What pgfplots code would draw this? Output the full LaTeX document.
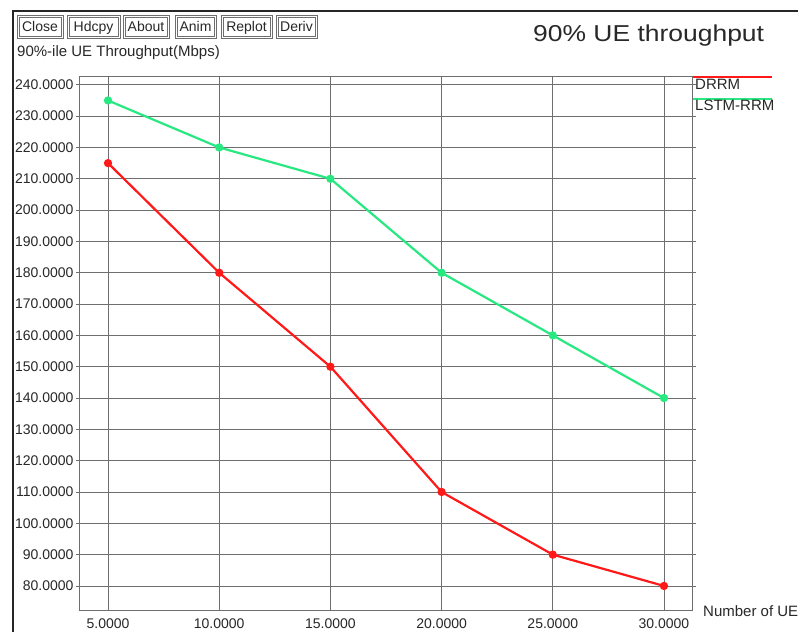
\documentclass[border=0pt]{standalone}
\usepackage{pgfplots}
\pgfplotsset{compat=1.18}
\usepackage{fontspec}
\setmainfont{Liberation Sans}
\definecolor{lred}{RGB}{255,25,25}
\definecolor{lgreen}{RGB}{40,232,130}
\definecolor{gridc}{RGB}{110,110,110}
\definecolor{txt}{RGB}{40,40,40}
\begin{document}
\begin{tikzpicture}[x=1pt,y=1pt]
\path[use as bounding box, fill=white] (0,0) rectangle (798,632);
% window border
\draw[line width=2pt, black!85] (12,621) -- (798,621);
\draw[line width=2pt, black!85] (13,621) -- (13,0);
% buttons
\foreach \a/\b/\t in {17/63/Close,67/120/Hdcpy,123/169/About,175/216/Anim,221/272/Replot,276/317/Deriv}{
  \draw[gridc, line width=0.8pt] (\a,617) rectangle (\b,594);
  \draw[gridc, line width=0.6pt] (\a+2,615) rectangle (\b-2,596);
  \node[font=\fontsize{14}{16}\selectfont, text=txt, anchor=base] at ({(\a+\b)/2},600) {\t};
}
% y label
\node[font=\fontsize{15}{18}\selectfont, text=txt, anchor=base west, inner sep=0pt] at (17,575) {90\%-ile UE Throughput(Mbps)};
% title
\node[font=\fontsize{23}{26}\selectfont, text=txt, anchor=base west, inner sep=0pt, xscale=1.15] at (533,590) {90\% UE throughput};
% x label
\node[font=\fontsize{15}{18}\selectfont, text=txt, anchor=base west, inner sep=0pt] at (703,16) {Number of UE};
\begin{axis}[
  at={(80pt,21pt)}, anchor=south west, scale only axis,
  width=612pt, height=534pt,
  xmin=3.74, xmax=31.26, ymin=72, ymax=242.5,
  xtick={5,10,...,30}, ytick={80,90,...,240},
  grid=major, major grid style={gridc, line width=0.8pt},
  axis line style={gridc, line width=1pt},
  tick align=outside, major tick length=4pt,
  xtick style={draw=none}, ytick style={gridc, line width=0.8pt},
  /pgf/number format/fixed, /pgf/number format/fixed zerofill,
  /pgf/number format/precision=4, /pgf/number format/assume math mode=true,
  /pgf/number format/1000 sep={},
  ticklabel style={font=\fontsize{14}{16}\selectfont, text=txt},
  xticklabel style={anchor=base, yshift=-13pt, inner sep=0.5pt},
  yticklabel style={anchor=east, xshift=1pt},
]
\addplot[lred, line width=2.2pt, mark=*, mark size=3pt] coordinates {(5,215) (10,180) (15,150) (20,110) (25,90) (30,80)};
\addplot[lgreen, line width=2.2pt, mark=*, mark size=3pt] coordinates {(5,235) (10,220) (15,210) (20,180) (25,160) (30,140)};
\end{axis}
% legend
\draw[lred, line width=1.5pt] (693,555) -- (772,555);
\node[font=\fontsize{15}{18}\selectfont, text=txt, anchor=base west, inner sep=0pt] at (695,542) {DRRM};
\draw[lgreen, line width=1.5pt] (693,533) -- (772,533);
\node[font=\fontsize{15}{18}\selectfont, text=txt, anchor=base west, inner sep=0pt] at (695,521) {LSTM-RRM};
\end{tikzpicture}
\end{document}
